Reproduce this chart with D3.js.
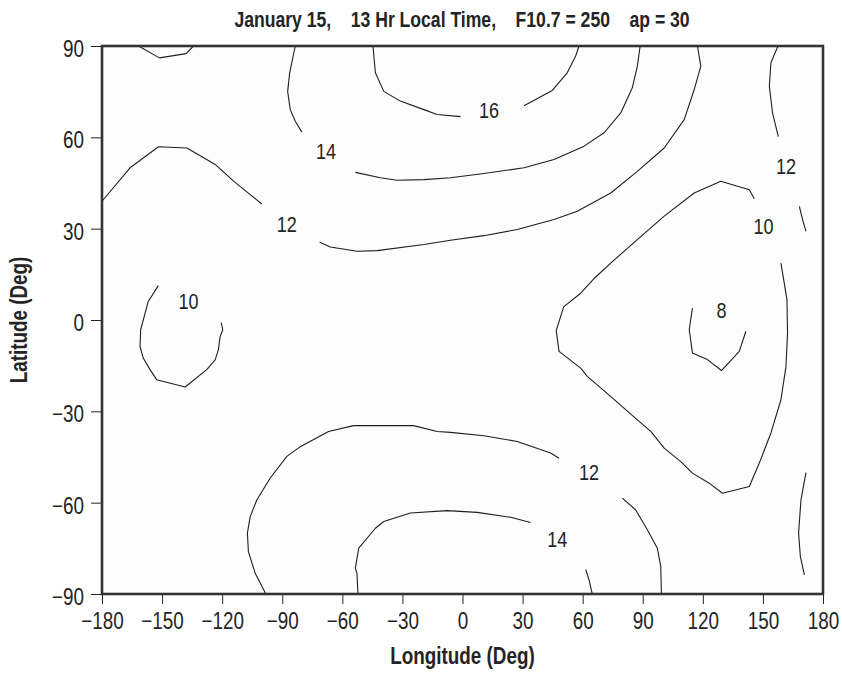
<!DOCTYPE html>
<html>
<head>
<meta charset="utf-8">
<script src="https://cdn.jsdelivr.net/npm/d3@7"></script>
<style>
  html, body { margin: 0; padding: 0; background: #ffffff; }
  svg { display: block; }
  text { font-family: "Liberation Sans", Arial, Helvetica, sans-serif; }
</style>
</head>
<body>
<svg id="chart" width="842" height="673"></svg>
<script>
// Axis ticks
const lonTicks = [-180, -150, -120, -90, -60, -30, 0, 30, 60, 90, 120, 150, 180];
const latTicks = [-90, -60, -30, 0, 30, 60, 90];

// Contour line segments, [longitude, latitude] (lines break around their labels)
const c16West = [[-44.7,90],[-43.5,81.2],[-39.3,75.1],[-31,71.9],[-19.3,69.1],[-12.7,67.5],[-1,66.8]];
const c16East = [[30.7,70.4],[44.8,75.4],[52.3,81.2],[56.5,86.7],[58.2,90]];

const c14NorthWest = [[-83.5,90],[-86.3,81.2],[-87.3,75.1],[-86,69.1],[-83.5,65.3],[-80.2,61.7]];
const c14NorthEast = [[-53.5,48.5],[-41,46.7],[-32.7,45.9],[-19.3,46.1],[-6,46.7],[10.7,48.1],[30.7,50.0],
  [45.7,52.7],[60.7,57.1],[70.7,61.5],[79,68.0],[84.8,76.3],[87.3,83.4],[88.7,90]];
const c14PoleArc = [[-161.8,90],[-151.3,86.1],[-138,87.5],[-134.3,90]];

const c12NorthWest = [[-180,39.0],[-166,50.0],[-151.8,56.9],[-137.6,56.5],[-123.5,51.1],[-114.3,45.6],[-106,41.2],[-100.2,38.1]];
const c12NorthEast = [[-71.3,25.5],[-66,24.0],[-52.7,22.6],[-42.7,22.8],[-19.3,24.8],[-6,26.2],[10.7,27.7],[27.3,29.7],
  [45.7,33.0],[57.3,35.7],[74,41.7],[87.3,48.8],[100.7,56.5],[110.7,65.8],[115.7,75.7],[119,83.4],[117.3,90]];
const c12DatelineNorth = [[157.5,90],[154,84.5],[153.2,76.8],[154.8,68.0],[157.7,60.2]];
const c12DatelineMid = [[168.2,37.3],[169.8,33.0],[171.5,29.1]];
const c12DatelineSouth = [[171.5,-50.1],[169,-59.1],[167.8,-70.0],[168.7,-77.7],[170.7,-83.7]];

const c12SouthWest = [[-98.2,-90],[-103.5,-83.2],[-106.9,-76.1],[-107.4,-70.0],[-106,-64.6],[-102.7,-59.1],[-96,-51.9],
  [-87.7,-44.8],[-81,-41.6],[-66.9,-36.6],[-54.4,-34.7],[-24.4,-34.7],[-12.7,-36.6],[-6,-36.9],[10.7,-38.0],
  [27.3,-39.9],[44,-43.7],[48.2,-45.4]];
const c12SouthEast = [[79.8,-58.5],[86.5,-62.4],[92.3,-68.9],[97.3,-75.0],[99,-81.0],[99.3,-90]];

const c14SouthWest = [[-52.2,-90],[-52.7,-83.2],[-53.5,-81.5],[-51.8,-74.9],[-43.5,-68.4],[-39.3,-66.2],[-26,-63.4],
  [-7.7,-62.6],[7.3,-63.2],[24,-64.8],[34,-66.5]];
const c14SouthEast = [[61.5,-81.9],[63.2,-85.4],[64.8,-90]];

const c10West = [[-151.9,11.3],[-156.9,6.1],[-160.7,-3.2],[-161,-8.7],[-159.4,-12.5],[-156,-16.3],[-152.7,-19.6],
  [-138.5,-22.0],[-136,-20.7],[-127.7,-16.3],[-123.5,-13.1],[-121.9,-9.8],[-121,-5.4],[-119.7,-3.2],[-120.5,-0.9]];
const c10East = [[145.7,39.8],[143.2,42.8],[129,45.6],[115.7,41.7],[100.7,34.1],[87.3,26.4],[74,18.7],[66,13.8],
  [59,8.8],[50.5,4.3],[46.8,-3.5],[48.2,-10.3],[59,-15.8],[62.3,-18.5],[74.8,-25.6],[87.3,-32.8],[94,-36.6],
  [100.7,-42.1],[109,-46.5],[114.8,-50.3],[123.2,-53.6],[129.8,-56.9],[143.2,-54.7],[148.2,-47.0],[154,-37.1],
  [159,-26.2],[161.5,-15.3],[162.3,-4.3],[162,6.7],[159,18.7]];

const c8East = [[114.8,3.9],[113.2,-3.2],[114.8,-10.8],[122.3,-13.0],[129.3,-16.6],[138.2,-10.3],[141.5,-3.7]];

const contourSegments = [
  c16West, c16East,
  c14NorthWest, c14NorthEast, c14PoleArc,
  c12NorthWest, c12NorthEast, c12DatelineNorth, c12DatelineMid, c12DatelineSouth,
  c12SouthWest, c12SouthEast,
  c14SouthWest, c14SouthEast,
  c10West, c10East,
  c8East
];

// Contour labels: level, longitude, latitude
const labelLevels = [16, 14, 12, 10, 12, 10, 8, 12, 14];
const labelLons   = [13.2, -68.2, -87.7, -136.8, 161.5, 150.3, 129.3, 63.2, 47.3];
const labelLats   = [69.1, 55.4, 31.6, 6.1, 50.5, 30.8, 3.2, -50.1, -72];

const titleText = "January 15,    13 Hr Local Time,    F10.7 = 250    ap = 30";

const svg = d3.select("#chart");
const W = 842, H = 673;
const margin = { left: 102, right: 19, top: 46, bottom: 79 };

const x = d3.scaleLinear().domain([-180, 180]).range([margin.left, W - margin.right]);
const y = d3.scaleLinear().domain([-90, 90]).range([H - margin.bottom, margin.top]);

const ink = "#242424";
const squeeze = 0.82; // horizontal compression for the narrow lettering

// Plot background
svg.append("rect")
  .attr("x", x(-180)).attr("y", y(90))
  .attr("width", x(180) - x(-180)).attr("height", y(-90) - y(90))
  .attr("fill", "#fdfdfd");

// Contour lines
const line = d3.line().x(d => x(d[0])).y(d => y(d[1]));
svg.append("g")
  .selectAll("path")
  .data(contourSegments)
  .join("path")
  .attr("d", line)
  .attr("fill", "none")
  .attr("stroke", "#1e1e1e")
  .attr("stroke-width", 1.1)
  .attr("stroke-linejoin", "round");

// Contour labels
const labels = labelLevels.map((v, i) => ({ v, lon: labelLons[i], lat: labelLats[i] }));
svg.append("g")
  .selectAll("text")
  .data(labels)
  .join("text")
  .attr("transform", d => `translate(${x(d.lon)},${y(d.lat)}) scale(${squeeze},1)`)
  .attr("dy", "0.36em")
  .attr("text-anchor", "middle")
  .attr("font-size", 22)
  .attr("fill", ink)
  .text(d => d.v);

// Axes
const fmt = d3.format("d");
const xAxis = svg.append("g")
  .attr("transform", `translate(0,${y(-90)})`)
  .call(d3.axisBottom(x).tickValues(lonTicks).tickFormat(fmt).tickSize(10).tickSizeOuter(0).tickPadding(9));
const yAxis = svg.append("g")
  .attr("transform", `translate(${x(-180)},0)`)
  .call(d3.axisLeft(y).tickValues(latTicks).tickFormat(fmt).tickSize(11).tickSizeOuter(0).tickPadding(7));

[xAxis, yAxis].forEach(g => {
  g.attr("font-family", null);
  g.select(".domain").remove();
  g.selectAll(".tick line").attr("stroke", ink).attr("stroke-width", 1);
  g.selectAll(".tick text")
    .attr("font-size", 23)
    .attr("fill", ink);
});
xAxis.selectAll(".tick text").attr("transform", `scale(${squeeze},1)`);
yAxis.selectAll(".tick text")
  .attr("dy", "0.45em")
  .attr("x", -18 / squeeze)
  .attr("transform", `scale(${squeeze},1)`);

// Frame
svg.append("rect")
  .attr("x", x(-180)).attr("y", y(90))
  .attr("width", x(180) - x(-180)).attr("height", y(-90) - y(90))
  .attr("fill", "none")
  .attr("stroke", "#333333")
  .attr("stroke-width", 2.6);

// Title and axis titles
svg.append("text")
  .attr("transform", `translate(462,27) scale(0.8,1)`)
  .attr("text-anchor", "middle")
  .attr("font-size", 22)
  .attr("font-weight", "bold")
  .attr("fill", ink)
  .style("white-space", "pre")
  .text(titleText);

svg.append("text")
  .attr("transform", `translate(${(x(-180) + x(180)) / 2},664) scale(0.82,1)`)
  .attr("text-anchor", "middle")
  .attr("font-size", 23)
  .attr("font-weight", "bold")
  .attr("fill", ink)
  .text("Longitude (Deg)");

svg.append("text")
  .attr("transform", `translate(27,${(y(90) + y(-90)) / 2}) rotate(-90) scale(0.82,1)`)
  .attr("text-anchor", "middle")
  .attr("font-size", 23)
  .attr("font-weight", "bold")
  .attr("fill", ink)
  .text("Latitude (Deg)");
</script>
</body>
</html>
